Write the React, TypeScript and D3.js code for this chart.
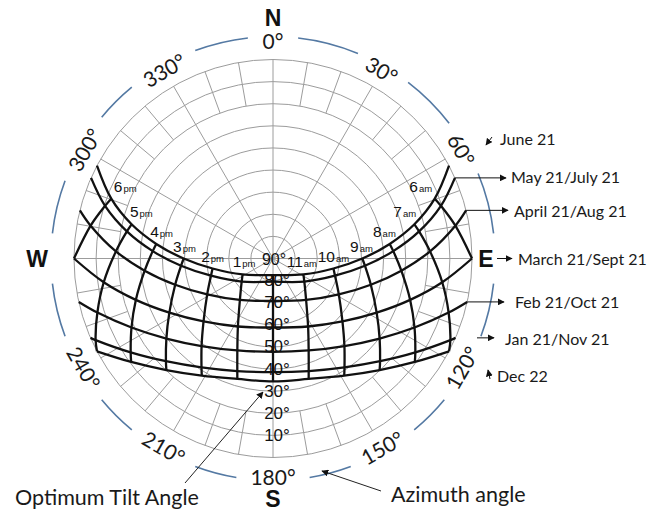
import * as d3 from "d3";

const WIDTH = 666;
const HEIGHT = 519;

// altitude rings (deg) - 90° sits at the centre, 0° on the rim
const ringAltitudes = [0, 10, 20, 30, 40, 50, 60, 70, 80];
const altitudeLabels = [80, 70, 60, 50, 40, 30, 20, 10];

// azimuth marks round the rim (deg from north, clockwise)
const azimuthTicks = [0, 30, 60, 90, 120, 150, 180, 210, 240, 270, 300, 330];
const azimuthText = ["0°", "30°", "60°", "E", "120°", "150°", "180°", "210°", "240°", "W", "300°", "330°"];
const compassLetters = ["N", "E", "S", "W"];
const compassAzimuths = [0, 90, 180, 270];

const dateLabels = [
  "June 21",
  "May 21/July 21",
  "April 21/Aug 21",
  "March 21/Sept 21",
  "Feb 21/Oct 21",
  "Jan 21/Nov 21",
  "Dec 22",
];

// morning half of each day: [solar hour, azimuth (deg), altitude (deg)]
// first entry is sunrise; the afternoon is the mirror image about solar noon
const juneAm = [
  [4.97, 62.2, 0], [6, 69.7, 12.0], [7, 76.4, 24.2], [8, 82.9, 36.8],
  [9, 90.0, 49.6], [10, 99.4, 62.3], [11, 117.6, 74.5], [12, 180, 82.5],
];
const mayJulyAm = [
  [5.13, 66.1, 0], [6, 72.6, 10.4], [7, 79.5, 22.8], [8, 86.5, 35.5],
  [9, 94.5, 48.3], [10, 105.5, 60.9], [11, 126.4, 72.4], [12, 180, 79.5],
];
const aprilAugAm = [
  [5.51, 76.0, 0], [6, 79.8, 6.2], [7, 87.4, 18.9], [8, 95.4, 31.7],
  [9, 105.0, 44.2], [10, 118.6, 56.1], [11, 141.4, 66.0], [12, 180, 70.8],
];
const marchSeptAm = [
  [6, 90.0, 0], [7, 98.0, 12.7], [8, 106.8, 25.2], [9, 117.6, 37.1],
  [10, 132.2, 47.6], [11, 152.7, 55.4], [12, 180, 58.8],
];
const febOctAm = [
  [6.44, 102.6, 0], [7, 107.1, 6.9], [8, 116.0, 18.8], [9, 126.9, 29.7],
  [10, 140.8, 38.9], [11, 158.8, 45.4], [12, 180, 47.8],
];
const janNovAm = [
  [6.85, 113.5, 0], [7, 114.7, 1.7], [8, 123.4, 12.9], [9, 133.8, 22.9],
  [10, 146.7, 31.1], [11, 162.4, 36.6], [12, 180, 38.6],
];
const decAm = [
  [7, 117.8, 0], [8, 126.1, 10.6], [9, 136.3, 20.2], [10, 148.7, 28.0],
  [11, 163.5, 33.2], [12, 180, 34.4],
];
const morningPaths = [juneAm, mayJulyAm, aprilAugAm, marchSeptAm, febOctAm, janNovAm, decAm];

const hourLabels = [6, 7, 8, 9, 10, 11, 13, 14, 15, 16, 17, 18];

export default function App() {
  const cx = 273;
  const cy = 258.5;
  const R = 199;
  const rimR = 222;

  const rScale = d3.scaleLinear().domain([90, 0]).range([0, R]);
  const rad = (d: number) => (d * Math.PI) / 180;
  const polar = (az: number, r: number): [number, number] => [
    cx + r * Math.sin(rad(az)),
    cy - r * Math.cos(rad(az)),
  ];
  const project = (az: number, alt: number) => polar(az, rScale(alt));

  // full day = morning + mirrored afternoon
  const days = morningPaths.map((am) => {
    const pm = am
      .filter((p) => p[0] < 12)
      .map(([h, az, alt]) => [24 - h, 360 - az, alt])
      .reverse();
    return [...am, ...pm];
  });

  const line = d3.line<[number, number]>().curve(d3.curveCatmullRom.alpha(0.5));

  const hourLines = d3.range(6, 19).map((h) =>
    days
      .map((d) => d.find((p) => p[0] === h))
      .filter((p): p is number[] => !!p)
      .map((p) => project(p[1], p[2]))
  );

  // blue rim arc with gaps where labels sit
  const gapOf = (t: string) => (t.length <= 2 ? 6.5 : t.length === 3 ? 7.5 : 9.5);
  const rim = d3.path();
  azimuthTicks.forEach((a, i) => {
    const j = (i + 1) % azimuthTicks.length;
    const a0 = a + gapOf(azimuthText[i]);
    let a1 = azimuthTicks[j] - gapOf(azimuthText[j]);
    if (j === 0) a1 += 360;
    const s = polar(a0, rimR);
    rim.moveTo(s[0], s[1]);
    rim.arc(cx, cy, rimR, rad(a0 - 90), rad(a1 - 90));
  });

  // 10° azimuth ticks in the outer two bands, 30° spokes to the centre
  const minorTicks = d3.range(0, 360, 10).filter((a) => a % 30 !== 0);
  const spokes = d3.range(0, 360, 30);

  const sunrise = days.map((d) => project(d[0][1], d[0][2]));
  const compassR: Record<string, number> = { N: 241, E: 213, S: 240, W: 236 };

  const labelFont = "'Liberation Sans', Arial, sans-serif";
  const noteFont = "Lato, 'Open Sans', sans-serif";

  return (
    <svg
      width={WIDTH}
      height={HEIGHT}
      style={{ position: "absolute", left: 0, top: 0, background: "#fff" }}
    >
      <defs>
        <marker
          id="arrow"
          viewBox="0 0 10 10"
          refX="9"
          refY="5"
          markerWidth="7"
          markerHeight="7"
          markerUnits="userSpaceOnUse"
          orient="auto"
        >
          <path d="M0,0 L10,5 L0,10 z" fill="#111" />
        </marker>
      </defs>
      <rect width={WIDTH} height={HEIGHT} fill="#fff" />

      {/* grid */}
      <g fill="none" stroke="#9c9c9c" strokeWidth={1}>
        {ringAltitudes.map((a) => (
          <circle key={a} cx={cx} cy={cy} r={rScale(a)} />
        ))}
        {spokes.map((a) => {
          const [x, y] = polar(a, R);
          return <line key={a} x1={cx} y1={cy} x2={x} y2={y} />;
        })}
        {minorTicks.map((a) => {
          const [x1, y1] = project(a, 20);
          const [x2, y2] = project(a, 0);
          return <line key={a} x1={x1} y1={y1} x2={x2} y2={y2} />;
        })}
      </g>

      <path d={rim.toString()} fill="none" stroke="#5479a3" strokeWidth={1.6} />

      {/* sun paths */}
      <g fill="none" stroke="#111" strokeWidth={2.3} strokeLinejoin="round">
        {days.map((d, i) => (
          <path key={i} d={line(d.map((p) => project(p[1], p[2])))!} />
        ))}
        {hourLines.map((pts, i) =>
          pts.length > 1 ? <path key={"h" + i} d={line(pts)!} /> : null
        )}
      </g>

      {/* hour labels along the June path */}
      {hourLabels.map((h) => {
        const p = days[0].find((q) => q[0] === h)!;
        const [x, y] = project(p[1], p[2]);
        const side = h > 12 ? 1 : -1;
        const dx = side * (Math.max(0, 0.35 * (52 - p[2])) + (p[2] > 70 ? 1.5 : 0));
        return (
          <text
            key={h}
            x={x + dx}
            y={y - 7}
            textAnchor="middle"
            fontFamily={labelFont}
            fill="#111"
          >
            <tspan fontSize={15.5}>{h > 12 ? h - 12 : h}</tspan>
            <tspan fontSize={9.5} dx={1}>
              {h > 12 ? "pm" : "am"}
            </tspan>
          </text>
        );
      })}

      {/* altitude labels along the south line */}
      <g fontFamily={labelFont} fontSize={17} fill="#111" textAnchor="middle">
        <text x={cx + 1} y={cy + 1} fontSize={16} dominantBaseline="central">
          90°
        </text>
        {altitudeLabels.map((a) => (
          <text key={a} x={cx + 4} y={cy + rScale(a)} dominantBaseline="central">
            {a}°
          </text>
        ))}
      </g>

      {/* azimuth labels */}
      <g fontFamily={noteFont} fontSize={21} fill="#1a1a1a" textAnchor="middle">
        {azimuthTicks.map((a, i) => {
          if (a % 90 === 0 && a !== 0 && a !== 180) return null;
          const [x, y] = polar(a, 218);
          const rot = a > 90 && a < 270 ? a - 180 : a > 180 ? a - 360 : a;
          return (
            <text
              key={a}
              x={x}
              y={y}
              dominantBaseline="central"
              transform={`rotate(${rot},${x},${y})`}
            >
              {azimuthText[i]}
            </text>
          );
        })}
      </g>

      {/* compass letters */}
      <g fontFamily={labelFont} fontSize={23} fontWeight="bold" fill="#111" textAnchor="middle">
        {compassLetters.map((c, i) => {
          const [x, y] = polar(compassAzimuths[i], compassR[c]);
          return (
            <text key={c} x={x} y={y} dominantBaseline="central">
              {c}
            </text>
          );
        })}
      </g>

      {/* date annotations */}
      <g stroke="#111" strokeWidth={1} fill="none">
        <line x1={492} y1={137} x2={486} y2={145} markerEnd="url(#arrow)" />
        <line x1={sunrise[1][0]} y1={sunrise[1][1]} x2={506} y2={sunrise[1][1]} markerEnd="url(#arrow)" />
        <line x1={sunrise[2][0]} y1={sunrise[2][1]} x2={508} y2={sunrise[2][1]} markerEnd="url(#arrow)" />
        <line x1={497} y1={cy} x2={512} y2={cy} markerEnd="url(#arrow)" />
        <line x1={sunrise[4][0]} y1={sunrise[4][1]} x2={504} y2={sunrise[4][1]} markerEnd="url(#arrow)" />
        <line x1={477} y1={sunrise[5][1]} x2={494} y2={sunrise[5][1]} markerEnd="url(#arrow)" />
        <line x1={490} y1={379} x2={488} y2={370} markerEnd="url(#arrow)" />
      </g>
      <g fontFamily={noteFont} fontSize={16} fill="#1a1a1a" dominantBaseline="central">
        <text x={500} y={138}>{dateLabels[0]}</text>
        <text x={511} y={sunrise[1][1] - 1}>{dateLabels[1]}</text>
        <text x={514} y={sunrise[2][1]}>{dateLabels[2]}</text>
        <text x={518} y={cy}>{dateLabels[3]}</text>
        <text x={515} y={sunrise[4][1]}>{dateLabels[4]}</text>
        <text x={505} y={sunrise[5][1] + 1}>{dateLabels[5]}</text>
        <text x={497} y={375}>{dateLabels[6]}</text>
      </g>

      {/* bottom captions */}
      <g stroke="#222" strokeWidth={1} fill="none">
        <line x1={185} y1={483} x2={263} y2={392} markerEnd="url(#arrow)" />
        <line x1={381} y1={491} x2={322} y2={471} markerEnd="url(#arrow)" />
      </g>
      <g fontFamily={noteFont} fontSize={21.5} fill="#1a1a1a" dominantBaseline="central">
        <text x={15} y={497}>Optimum Tilt Angle</text>
        <text x={391} y={494}>Azimuth angle</text>
      </g>
    </svg>
  );
}
